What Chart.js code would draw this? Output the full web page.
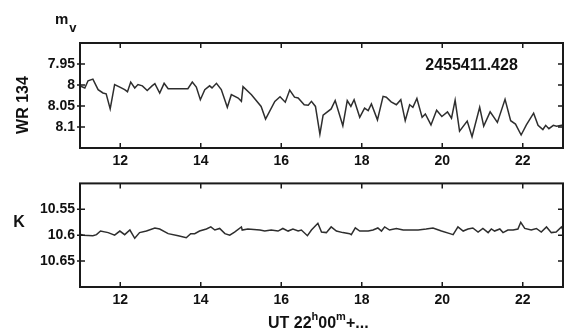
<!DOCTYPE html>
<html>
<head>
<meta charset="utf-8">
<script src="https://cdn.jsdelivr.net/npm/chart.js@4.4.0/dist/chart.umd.min.js"></script>
<style>
  body { margin: 0; background: #fff; }
  #wrap { position: relative; width: 564px; height: 329px; overflow: hidden;
          font-family: "Liberation Sans", Arial, sans-serif; font-weight: bold; color: #111; }
  canvas { position: absolute; left: 0; }
  #topChart { top: 0; }
  #botChart { top: 170px; }
  .lbl { position: absolute; line-height: 1; white-space: nowrap; }
</style>
</head>
<body>
<div id="wrap">
  <canvas id="topChart" width="564" height="170"></canvas>
  <canvas id="botChart" width="564" height="159"></canvas>

  <div class="lbl" style="left:55px; top:11px; font-size:15px;">m<span style="font-size:13px; position:relative; top:8px; left:1px;">v</span></div>
  <div class="lbl" style="left:22.5px; top:105px; font-size:16px; transform:translate(-50%,-50%) rotate(-90deg);">WR 134</div>
  <div class="lbl" style="left:19px; top:221.5px; font-size:16px; transform:translate(-50%,-50%);">K</div>
  <div class="lbl" style="left:471.5px; top:65px; font-size:16px; transform:translate(-50%,-50%);">2455411.428</div>
  <div class="lbl" style="left:268px; top:315px; font-size:16px;">UT 22<span style="font-size:11px; position:relative; top:-8px;">h</span>00<span style="font-size:11px; position:relative; top:-8px;">m</span>+...</div>
</div>

<script>
// --- DATA ---
// WR 134, V magnitude vs. minutes after 22h00m UT
const timesV = [11.00, 11.12, 11.20, 11.32, 11.45, 11.57, 11.65, 11.75, 11.86, 11.99,
                12.11, 12.18, 12.26, 12.36, 12.44, 12.55, 12.67, 12.79, 12.86, 12.98,
                13.09, 13.19, 13.44, 13.68, 13.79, 13.89, 13.99, 14.10, 14.22, 14.28,
                14.39, 14.51, 14.66, 14.76, 14.93, 15.01, 15.05, 15.26, 15.50, 15.61,
                15.84, 15.97, 16.10, 16.21, 16.33, 16.42, 16.57, 16.67, 16.75, 16.85,
                16.96, 17.04, 17.24, 17.34, 17.53, 17.64, 17.73, 17.81, 17.95, 18.07,
                18.16, 18.24, 18.39, 18.53, 18.61, 18.73, 18.86, 18.97, 19.08, 19.19,
                19.27, 19.37, 19.50, 19.58, 19.72, 19.86, 19.99, 20.13, 20.23, 20.32,
                20.43, 20.62, 20.74, 20.93, 21.03, 21.19, 21.37, 21.56, 21.70, 21.82,
                21.96, 22.09, 22.27, 22.38, 22.50, 22.57, 22.65, 22.76, 22.84, 23.00];
const magV = [8.002, 8.007, 7.990, 7.986, 8.011, 8.019, 8.021, 8.057, 7.999, 8.005,
              8.011, 8.016, 7.993, 8.007, 7.999, 8.002, 8.013, 8.002, 7.997, 8.019,
              7.996, 8.009, 8.009, 8.009, 7.993, 8.005, 8.035, 8.011, 8.002, 8.007,
              7.996, 8.011, 8.053, 8.023, 8.031, 8.039, 8.004, 8.023, 8.051, 8.081,
              8.039, 8.028, 8.041, 8.012, 8.029, 8.031, 8.047, 8.048, 8.039, 8.051,
              8.117, 8.072, 8.057, 8.037, 8.097, 8.037, 8.051, 8.035, 8.077, 8.055,
              8.061, 8.045, 8.083, 8.027, 8.029, 8.040, 8.047, 8.035, 8.085, 8.047,
              8.053, 8.032, 8.077, 8.069, 8.095, 8.060, 8.075, 8.064, 8.079, 8.036,
              8.110, 8.086, 8.123, 8.053, 8.098, 8.064, 8.089, 8.034, 8.085, 8.093,
              8.119, 8.095, 8.067, 8.096, 8.106, 8.096, 8.104, 8.096, 8.098, 8.095];

// comparison star K
const timesK = [11.00, 11.08, 11.32, 11.41, 11.51, 11.70, 11.86, 11.99, 12.11, 12.24,
                12.36, 12.48, 12.65, 12.86, 12.98, 13.19, 13.44, 13.64, 13.75, 13.85,
                13.97, 14.14, 14.25, 14.35, 14.47, 14.60, 14.72, 14.84, 15.01, 15.03,
                15.17, 15.47, 15.59, 15.75, 15.92, 16.04, 16.17, 16.29, 16.42, 16.50,
                16.65, 16.75, 16.91, 17.00, 17.12, 17.24, 17.37, 17.53, 17.70, 17.74,
                17.84, 17.95, 18.16, 18.28, 18.40, 18.49, 18.57, 18.69, 18.86, 19.03,
                19.19, 19.40, 19.60, 19.77, 19.98, 20.19, 20.27, 20.39, 20.52, 20.64,
                20.76, 20.89, 21.01, 21.14, 21.22, 21.30, 21.43, 21.51, 21.63, 21.76,
                21.88, 21.95, 22.05, 22.21, 22.34, 22.46, 22.59, 22.71, 22.83, 22.96,
                23.00];
const magK = [10.598, 10.600, 10.601, 10.599, 10.592, 10.595, 10.600, 10.592, 10.599, 10.590,
              10.606, 10.595, 10.592, 10.586, 10.588, 10.597, 10.601, 10.605, 10.597, 10.597,
              10.592, 10.588, 10.584, 10.590, 10.587, 10.597, 10.600, 10.594, 10.584, 10.590,
              10.588, 10.590, 10.592, 10.590, 10.592, 10.587, 10.592, 10.588, 10.592, 10.590,
              10.601, 10.590, 10.577, 10.594, 10.595, 10.584, 10.592, 10.595, 10.597, 10.599,
              10.586, 10.592, 10.592, 10.590, 10.586, 10.592, 10.584, 10.590, 10.587, 10.590,
              10.590, 10.590, 10.588, 10.586, 10.592, 10.597, 10.599, 10.584, 10.592, 10.588,
              10.586, 10.594, 10.587, 10.595, 10.588, 10.592, 10.588, 10.595, 10.590, 10.590,
              10.588, 10.575, 10.587, 10.590, 10.587, 10.594, 10.584, 10.595, 10.594, 10.584,
              10.590];

// --- TICKS ---
const xTicks = [12, 14, 16, 18, 20, 22];
const vTicks = [7.95, 8, 8.05, 8.1];
const kTicks = [10.55, 10.6, 10.65];

Chart.defaults.font.family = '"Liberation Sans", Arial, sans-serif';
Chart.defaults.font.weight = 'bold';
Chart.defaults.font.size = 14;
Chart.defaults.color = '#111';

// box around the plot area with inward tick marks on every side
const frameTicks = {
    id: 'frameTicks',
    afterDatasetsDraw(chart) {
        const { ctx, chartArea: a, scales: { x, y } } = chart;
        ctx.save();
        ctx.strokeStyle = '#1a1a1a';
        ctx.lineWidth = 1.5;
        ctx.beginPath();
        x.ticks.forEach(t => {
            const px = x.getPixelForValue(t.value);
            ctx.moveTo(px, a.top); ctx.lineTo(px, a.top + 5);
            ctx.moveTo(px, a.bottom); ctx.lineTo(px, a.bottom - 5);
        });
        y.ticks.forEach(t => {
            const py = y.getPixelForValue(t.value);
            ctx.moveTo(a.left - 3, py); ctx.lineTo(a.left + 5, py);
            ctx.moveTo(a.right, py); ctx.lineTo(a.right - 5, py);
        });
        ctx.stroke();
        ctx.lineWidth = 2;
        ctx.strokeRect(a.left, a.top, a.right - a.left, a.bottom - a.top);
        ctx.restore();
    }
};

function makePanel(id, times, mags, yMin, yMax, yTicks, padTop, xHeight) {
    new Chart(document.getElementById(id), {
        type: 'line',
        data: {
            datasets: [{
                data: times.map((t, i) => ({ x: t, y: mags[i] })),
                borderColor: '#2e2e2e',
                borderWidth: 1.5,
                pointRadius: 0,
                tension: 0
            }]
        },
        options: {
            responsive: false,
            animation: false,
            devicePixelRatio: 1,
            layout: { padding: { top: padTop, right: 1, left: 0, bottom: 0 } },
            plugins: { legend: { display: false }, tooltip: { enabled: false } },
            scales: {
                x: {
                    type: 'linear',
                    min: 11,
                    max: 23,
                    grid: { display: false, drawTicks: false },
                    border: { display: false },
                    ticks: { padding: 5 },
                    afterBuildTicks: s => { s.ticks = xTicks.map(v => ({ value: v })); },
                    afterFit: s => { s.height = xHeight; }
                },
                y: {
                    min: yMin,
                    max: yMax,
                    reverse: true,
                    grid: { display: false, drawTicks: false },
                    border: { display: false },
                    ticks: { padding: 5, callback: v => String(v) },
                    afterBuildTicks: s => { s.ticks = yTicks.map(v => ({ value: v })); },
                    afterFit: s => { s.width = 80; }
                }
            }
        },
        plugins: [frameTicks]
    });
}

makePanel('topChart', timesV, magV, 7.9, 8.15, vTicks, 43, 22);
makePanel('botChart', timesK, magK, 10.5, 10.7, kTicks, 13, 42);
</script>
</body>
</html>
